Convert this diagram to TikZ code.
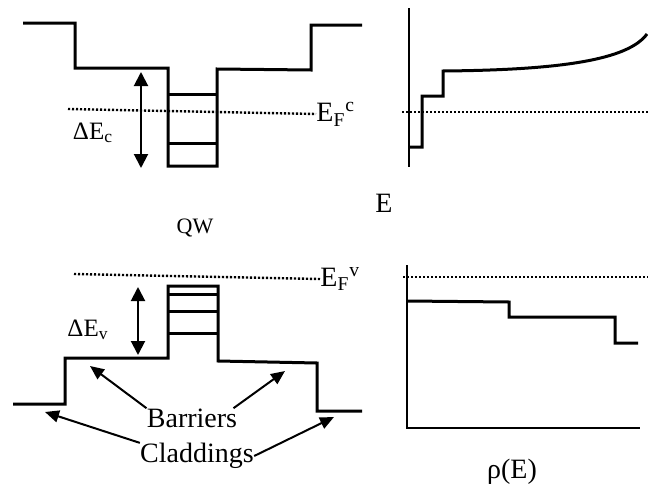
\documentclass[tikz,border=0pt]{standalone}
\usepackage{fontspec}
\setmainfont{Liberation Serif}
\usetikzlibrary{arrows.meta, positioning}

\begin{document}
\begin{tikzpicture}[
    x=0.5pt, y=-0.5pt,
    every node/.style={font=\fontsize{14}{16}\selectfont, inner sep=0pt},
    band/.style={line width=1.5pt},
    axis/.style={line width=1pt},
    fermi/.style={line width=1.2pt, dash pattern=on 1.1pt off 0.9pt},
    arrow/.style={-{Triangle[length=7pt, width=6pt]}, line width=1pt},
    span/.style={{Triangle[length=7pt, width=7pt]}-{Triangle[length=7pt, width=7pt]}, line width=1pt}
]
    \useasboundingbox (0,0) rectangle (649,493);

    % conduction band well
    \draw[band] (23,23) -- (75,23) -- (75,68) -- (168,68) -- (168,166) -- (217,166) -- (217,69) -- (311,70) -- (311,25) -- (362,25);
    \draw[band] (168,94) -- (217,94);
    \draw[band] (168,143) -- (217,143);
    \node[anchor=west] (efc) at (316,114) {E\textsubscript{F}\textsuperscript{c}};
    \draw[fermi] (68,109) -- (efc.west);
    \coordinate (dec top) at (141,72);
    \coordinate (dec bot) at (141,168);
    \draw[span] (dec top) -- (dec bot);
    \node[font=\fontsize{12.5}{14}\selectfont] (dec) at (93,133) {ΔE\textsubscript{c}};
    \node[font=\fontsize{11}{13}\selectfont] (qw) at (195,228) {QW};

    % conduction density of states
    \draw[axis] (409,8) -- (409,167);
    \draw[band] (409,147) -- (422,147) -- (422,96) -- (443,96) -- (443,71) .. controls (560,70) and (628,60) .. (647,34);
    \draw[fermi] (402,112) -- (648,112);
    \node (energy) at (384,203) {E};

    % valence band well
    \draw[band] (13,404) -- (65,404) -- (65,358) -- (168,358) -- (168,286) -- (218,286) -- (218,361) -- (317,363) -- (317,411) -- (362,411);
    \draw[band] (168,294) -- (218,294);
    \draw[band] (168,311) -- (218,311);
    \draw[band] (168,333) -- (218,333);
    \node[anchor=west] (efv) at (320,279) {E\textsubscript{F}\textsuperscript{v}};
    \draw[fermi] (74,274) -- (efv.west);
    \coordinate (dev top) at (138,287);
    \coordinate (dev bot) at (138,355);
    \draw[span] (dev top) -- (dev bot);
    \node[font=\fontsize{12.5}{14}\selectfont] (dev) at (88,330) {ΔE\textsubscript{v}};

    \node (barriers) at (192,418) {Barriers};
    \node (claddings) at (197,456) {Claddings};
    \coordinate (bar left) at (90,366);
    \coordinate (bar right) at (285,371);
    \coordinate (clad left) at (45,412);
    \coordinate (clad right) at (334,417);
    \draw[arrow] (barriers.north west) -- (bar left);
    \draw[arrow] ([xshift=-2]barriers.north east) -- (bar right);
    \draw[arrow] (claddings.north west) -- (clad left);
    \draw[arrow] (claddings.east) -- (clad right);

    % valence density of states
    \draw[axis] (407,265) -- (407,428) -- (640,428);
    \draw[fermi] (403,277) -- (648,277);
    \draw[band] (407,301) -- (509,302) -- (509,317) -- (615,317) -- (615,343) -- (638,343);
    \node (rho) at (512,472) {ρ(E)};
\end{tikzpicture}
\end{document}
